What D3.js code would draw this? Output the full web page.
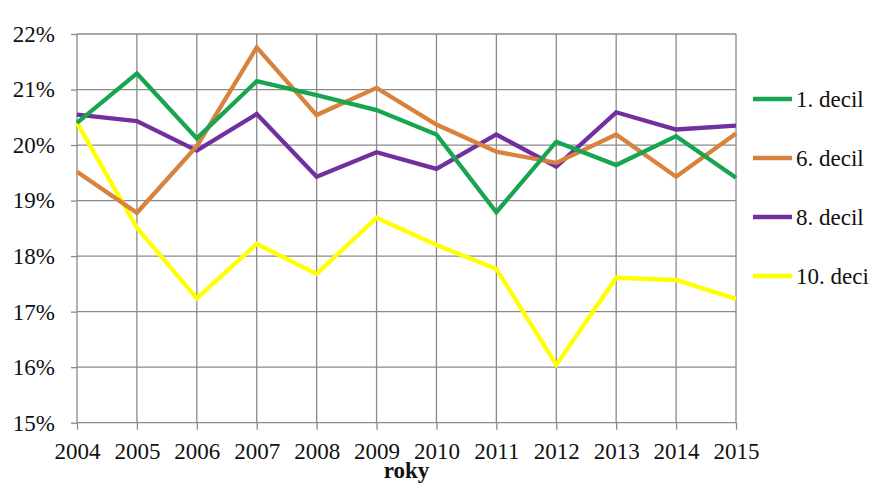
<html>
<head>
  <style>
    body {
      margin: 0;
      background: #fff;
      font-family: "Liberation Serif", "Times New Roman", serif;
    }
    .grid line {
      stroke: #8a8a8a;
      stroke-width: 1.3px;
    }
    .axis path {
      display: none;
    }
    .axis line {
      stroke: #8a8a8a;
      stroke-width: 1.3px;
    }
    .axis text {
      font-family: "Liberation Serif", "Times New Roman", serif;
      font-size: 23px;
      fill: #111;
    }
    .series {
      fill: none;
      stroke-width: 4.3px;
      stroke-linejoin: miter;
    }
  </style>
</head>
<body>
  <div class="chart"></div>
  <script src="https://cdn.jsdelivr.net/npm/d3@7"></script>
  <script>
    // data
    let years = [2004, 2005, 2006, 2007, 2008, 2009, 2010, 2011, 2012, 2013, 2014, 2015];
    let decil1 = [20.40, 21.29, 20.12, 21.15, 20.90, 20.63, 20.19, 18.79, 20.06, 19.64, 20.16, 19.41];
    let decil6 = [19.52, 18.78, 19.98, 21.76, 20.54, 21.03, 20.37, 19.88, 19.68, 20.19, 19.43, 20.21];
    let decil8 = [20.55, 20.43, 19.90, 20.56, 19.43, 19.87, 19.57, 20.19, 19.61, 20.59, 20.28, 20.35];
    let decil10 = [20.40, 18.51, 17.24, 18.22, 17.68, 18.69, 18.20, 17.77, 16.04, 17.61, 17.57, 17.23];
    let yTicks = [15, 16, 17, 18, 19, 20, 21, 22];
    let seriesNames = ["1. decil", "6. decil", "8. decil", "10. deci"];
    let seriesColors = ["#17a550", "#d9823d", "#7030a0", "#ffff00"];
    let seriesValues = [decil1, decil6, decil8, decil10];
    let axisTitle = "roky";

    // setup
    let W = 875, H = 484;
    let margin = { top: 34, right: 139, bottom: 61.3, left: 77 },
      width = W - margin.left - margin.right,
      height = H - margin.top - margin.bottom;

    let svg = d3.select(".chart").append("svg")
      .attr("width", W)
      .attr("height", H)
      .style("display", "block");

    let g = svg.append("g")
      .attr("transform", "translate(" + margin.left + "," + margin.top + ")");

    let x = d3.scaleLinear()
      .domain([years[0], years[years.length - 1]])
      .range([0, width]);

    let y = d3.scaleLinear()
      .domain([15, 22])
      .range([height, 0]);

    // grid lines
    let grid = g.append("g").attr("class", "grid");
    grid.selectAll(".hline")
      .data(yTicks)
      .enter().append("line")
      .attr("class", "hline")
      .attr("x1", 0)
      .attr("x2", width)
      .attr("y1", function (d) { return y(d); })
      .attr("y2", function (d) { return y(d); });
    grid.selectAll(".vline")
      .data(years)
      .enter().append("line")
      .attr("class", "vline")
      .attr("x1", function (d) { return x(d); })
      .attr("x2", function (d) { return x(d); })
      .attr("y1", 0)
      .attr("y2", height);

    // axes
    let xAxis = d3.axisBottom(x)
      .tickValues(years)
      .tickFormat(d3.format("d"))
      .tickSize(7)
      .tickPadding(13);
    let yAxis = d3.axisLeft(y)
      .tickValues(yTicks)
      .tickFormat(function (d) { return d + "%"; })
      .tickSize(6)
      .tickPadding(16);

    g.append("g")
      .attr("class", "x axis")
      .attr("transform", "translate(0," + height + ")")
      .call(xAxis);
    g.append("g")
      .attr("class", "y axis")
      .call(yAxis);

    // axis title
    g.append("text")
      .attr("x", width / 2)
      .attr("y", height + 55)
      .attr("text-anchor", "middle")
      .style("font-size", "23px")
      .style("font-weight", "bold")
      .style("fill", "#111")
      .text(axisTitle);

    // lines
    let line = d3.line()
      .x(function (d, i) { return x(years[i]); })
      .y(function (d) { return y(d); });

    // draw in reverse so the 1. decil sits on top, like the original
    let order = [3, 2, 1, 0];
    order.forEach(function (k) {
      g.append("path")
        .datum(seriesValues[k])
        .attr("class", "series")
        .attr("stroke", seriesColors[k])
        .attr("d", line);
    });

    // legend
    let legend = svg.append("g")
      .attr("transform", "translate(753,99)");
    let items = legend.selectAll(".item")
      .data(seriesNames)
      .enter().append("g")
      .attr("class", "item")
      .attr("transform", function (d, i) { return "translate(0," + (i * 59) + ")"; });
    items.append("line")
      .attr("x1", 0)
      .attr("x2", 39)
      .attr("y1", 0)
      .attr("y2", 0)
      .attr("stroke", function (d, i) { return seriesColors[i]; })
      .attr("stroke-width", 4.3);
    items.append("text")
      .attr("x", 43)
      .attr("y", 0)
      .attr("dy", "0.35em")
      .style("font-size", "23px")
      .style("fill", "#111")
      .text(function (d) { return d; });
  </script>
</body>
</html>
